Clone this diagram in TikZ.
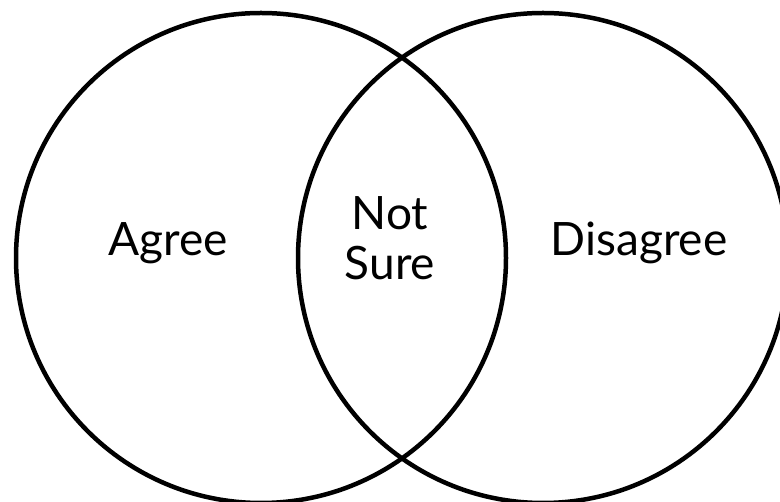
\documentclass[tikz,border=0pt]{standalone}
\usepackage{fontspec}
\setmainfont{Lato}
\begin{document}
\begin{tikzpicture}[x=1pt,y=-1pt,
  setcircle/.style={draw=black,line width=4.5pt,circle,minimum size=490pt,inner sep=0pt},
  label/.style={font=\fontsize{46}{50}\selectfont,align=center,inner sep=0pt}]
\useasboundingbox (0,0) rectangle (780,502);
\clip (0,0) rectangle (780,502);
\node[setcircle] (left) at (261,258) {};
\node[setcircle] (right) at (543,258) {};
\node[label] (agree) at (168,243) {Agree};
\node[label] (notsure) at (390,238) {Not\\Sure};
\node[label] (disagree) at (639,243) {Disagree};
\end{tikzpicture}
\end{document}
